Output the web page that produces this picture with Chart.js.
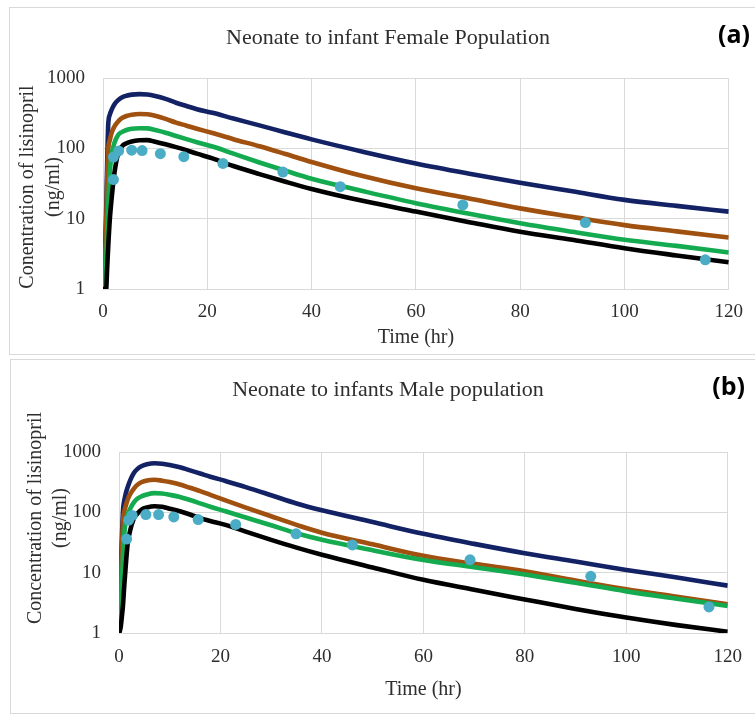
<!DOCTYPE html>
<html><head><meta charset="utf-8">
<script src="https://cdn.jsdelivr.net/npm/chart.js@4.4.1/dist/chart.umd.min.js"></script>
<style>
html,body{margin:0;padding:0;background:#fff;width:755px;height:718px;overflow:hidden;}
.box{position:absolute;border:1.5px solid #d9d9d9;box-sizing:border-box;}
canvas{position:absolute;}
</style></head><body>
<div class="box" style="left:9px;top:7px;width:760px;height:348px"></div>
<div class="box" style="left:10px;top:359px;width:760px;height:355px"></div>
<canvas id="ca" width="745" height="346" style="left:10px;top:8px"></canvas>
<canvas id="cb" width="744" height="353" style="left:11px;top:360px"></canvas>
<script>
// ---- data ----
const timeGrid = [0,0.3,0.6,0.8,1,1.3,1.7,2.2,2.9,3.6,4.5,5.5,7,8.5,10,12,14,16,18,21,25,30,35,40,50,60,70,80,90,100,110,120];

// Panel (a) Female
const navyA  = [1,2,12,60,215,300,360,425,485,530,560,580,590,582,555,505,445,400,360,320,265,212,168,134,89,61,44,32.5,24.5,18.5,15.2,12.6];
const brownA = [1,2,8,35,95,130,170,205,240,268,288,300,308,305,290,262,232,210,190,165,135,107,83,64,40,27,19.5,14,10.6,8.1,6.6,5.4];
const greenA = [1,1.3,2.5,6,15,45,85,120,155,170,182,190,193,192,182,167,150,135,122,106,84,63,48,37,24.5,16.6,11.8,8.6,6.5,5,4.1,3.3];
const blackA = [1,1,1,2,4,9.6,21,45,85,106,118,125,130,131,124,114,104,94,84,72,56,43,33.5,26.5,17.8,12.6,9,6.5,5,3.8,3,2.4];
const obsTimeA = [2,2,3,5.5,7.5,11,15.5,23,34.5,45.5,69,92.5,115.5];
const obsA     = [36,75,92,94,93,84,76,61,46,28.5,15.7,8.8,2.6];

// Panel (b) Male
const navyB  = [1,8,45,110,150,200,260,340,445,520,585,625,650,640,610,560,495,440,390,330,262,192,140,108,69,44,30,21,15.3,11.1,8.3,6.1];
const brownB = [1,5,30,75,100,125,162,200,245,285,318,338,347,335,318,290,255,225,195,158,120,86,62,46,29.5,19,14,10.5,7.4,5.3,4,3.0];
const greenB = [1,2,8,20,40,70,92,115,145,168,185,198,208,205,195,180,160,141,124,104,82,61,45,35,23.5,16.2,12.3,9.3,6.8,4.9,3.7,2.8];
const blackB = [1,1.2,2,3,5.5,12,30,50,78,95,112,120,126,124,115,104,92,80,72,62,48,35,26,19.8,12.2,7.6,5.2,3.6,2.5,1.8,1.35,1.05];
const obsTimeB = [1.5,1.9,2.6,5.3,7.8,10.8,15.6,23,34.9,46,69.2,93,116.3];
const obsB     = [36,74,89,92,92,84,76,63,44,28.8,16.3,8.7,2.7];

const xTicks = [0,20,40,60,80,100,120];
const yTicks = [1,10,100,1000];

// ---- styles ----
const COLORS = {navy:'#132265', brown:'#a0500f', green:'#14ab50', black:'#000000', obs:'#4bacc6'};
const TXT = '#2e2e2e';
const GRID = '#d9d9d9';
const SERIF = "'Liberation Serif','Times New Roman',serif";

function pts(xs, ys){ return xs.map((x,i)=>({x:x, y:ys[i]})); }
function lineDs(vals, color){
  return {data: pts(timeGrid, vals), showLine:true, borderColor:color, backgroundColor:color,
          borderWidth:4.6, pointRadius:0, cubicInterpolationMode:'monotone', fill:false};
}

function textPlugin(cfg){
  return {
    id:'texts',
    afterDraw(chart){
      const ctx = chart.ctx;
      ctx.save();
      ctx.fillStyle = TXT;
      ctx.textAlign = 'center'; ctx.textBaseline = 'middle';
      ctx.font = "22px " + SERIF;
      ctx.fillText(cfg.title, cfg.titleX, cfg.titleY);
      ctx.fillStyle = '#000';
      ctx.font = "bold 25px 'Open Sans','Liberation Sans',sans-serif";
      ctx.textAlign = 'right';
      ctx.fillText(cfg.tag, cfg.tagX, cfg.tagY);
      ctx.fillStyle = TXT;
      ctx.font = "20px " + SERIF;
      ctx.textAlign = 'center';
      cfg.yLines.forEach((ln, i) => {
        ctx.save();
        ctx.translate(cfg.yX[i], cfg.yY);
        ctx.rotate(-Math.PI/2);
        ctx.fillText(ln, 0, 0);
        ctx.restore();
      });
      ctx.restore();
    }
  };
}

function makeChart(id, series, obsT, obsV, layout, txt){
  const datasets = [
    {data: pts(obsT, obsV), showLine:false, pointRadius:5.5, pointBorderWidth:0,
     backgroundColor:COLORS.obs, borderColor:COLORS.obs},
    lineDs(series[3], COLORS.black),
    lineDs(series[2], COLORS.green),
    lineDs(series[1], COLORS.brown),
    lineDs(series[0], COLORS.navy)
  ];
  return new Chart(document.getElementById(id), {
    type:'scatter',
    data:{datasets},
    options:{
      responsive:false, animation:false, devicePixelRatio:1,
      layout:{padding:{top:layout.top, right:layout.right, left:0, bottom:0}},
      plugins:{legend:{display:false}, tooltip:{enabled:false}, title:{display:false}},
      scales:{
        x:{type:'linear', min:0, max:120,
           afterBuildTicks(s){ s.ticks = xTicks.map(v=>({value:v})); },
           ticks:{color:TXT, font:{family:SERIF, size:19}, padding:layout.xPad, callback:v=>String(v)},
           grid:{color:GRID, drawTicks:false, lineWidth:1},
           border:{color:GRID, width:1},
           title:{display:true, text:'Time (hr)', color:TXT, font:{family:SERIF, size:20}, padding:{top:0,bottom:layout.tPad}},
           afterFit(s){ s.height = layout.xH; }
        },
        y:{type:'logarithmic', min:1, max:1000,
           afterBuildTicks(s){ s.ticks = yTicks.map(v=>({value:v})); },
           ticks:{color:TXT, font:{family:SERIF, size:19}, padding:18, callback:v=>String(v)},
           grid:{color:GRID, drawTicks:false, lineWidth:1},
           border:{color:GRID, width:1},
           afterFit(s){ s.width = layout.yW; }
        }
      }
    },
    plugins:[textPlugin(txt)]
  });
}

makeChart('ca', [navyA, brownA, greenA, blackA], obsTimeA, obsA,
  {top:70, right:26, xH:65, yW:93, xPad:12, tPad:4},
  {title:'Neonate to infant Female Population', titleX:378, titleY:30, tag:'(a)', tagX:740, tagY:28,
   yLines:['Conentration of lisinopril','(ng/ml)'], yX:[18,44], yY:179});

makeChart('cb', [navyB, brownB, greenB, blackB], obsTimeB, obsB,
  {top:92, right:27, xH:80, yW:108, xPad:13, tPad:11},
  {title:'Neonate to infants Male population', titleX:377, titleY:30, tag:'(b)', tagX:734, tagY:28,
   yLines:['Concentration of lisinopril','(ng/ml)'], yX:[25,50], yY:158});
</script>
</body></html>
